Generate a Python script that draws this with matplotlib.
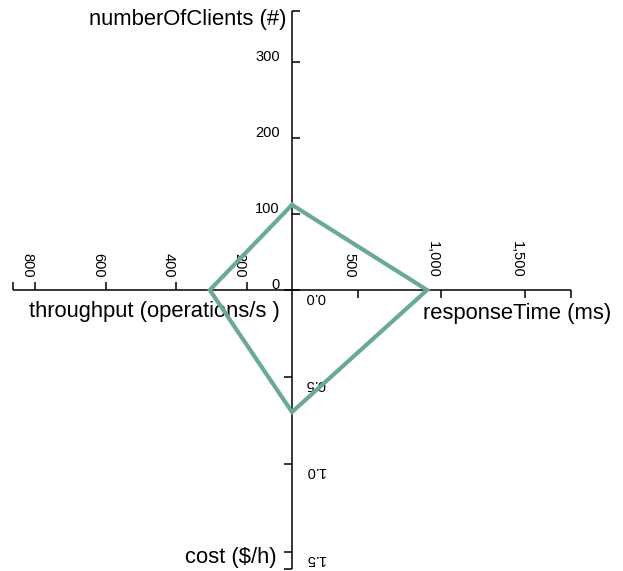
import matplotlib
matplotlib.use("Agg")
import matplotlib.pyplot as plt

plt.rcParams['font.family'] = ['Liberation Sans', 'DejaVu Sans']

# axis names, in drawing order: top, right, bottom, left
axis_names = ["numberOfClients (#)", "responseTime (ms)", "cost ($/h)", "throughput (operations/s )"]
# one measurement per axis
values = [112, 915, 0.7, 305]
# value range covered by each axis (centre -> outer end)
domains = [(0, 367), (105, 1778), (0, 1.6), (72, 863)]
tick_values = [
    [0, 100, 200, 300],
    [500, 1000, 1500],
    [0.0, 0.5, 1.0, 1.5],
    [200, 400, 600, 800],
]
tick_labels = [
    ["0", "100", "200", "300"],
    ["500", "1,000", "1,500"],
    ["0.0", "0.5", "1.0", "1.5"],
    ["200", "400", "600", "800"],
]

# layout in pixels
cx, cy = 292, 290
length = 279
directions = [(0, -1), (1, 0), (0, 1), (-1, 0)]
tick_len = 8
line_color = "#6aaa90"


def scale(i, v):
    lo, hi = domains[i]
    r = (v - lo) / (hi - lo) * length
    dx, dy = directions[i]
    return cx + dx * r, cy + dy * r


def draw_tick(i, x, y):
    if i == 0:
        ax.plot([x, x + tick_len], [y, y], **axis_kw)
    elif i == 1:
        ax.plot([x, x], [y, y + tick_len], **axis_kw)
    elif i == 2:
        ax.plot([x - tick_len, x], [y, y], **axis_kw)
    else:
        ax.plot([x, x], [y - tick_len, y], **axis_kw)


fig = plt.figure(figsize=(6.23, 5.71), dpi=100)
ax = fig.add_axes([0, 0, 1, 1])
ax.set_xlim(0, 623)
ax.set_ylim(571, 0)
ax.axis("off")

axis_kw = dict(color="black", lw=1.1, solid_capstyle="butt", zorder=2)
tick_fs = 10.5

for i in range(4):
    x0, y0 = scale(i, domains[i][0])
    x1, y1 = scale(i, domains[i][1])
    ax.plot([x0, x1], [y0, y1], **axis_kw)
    for v, lab in zip(tick_values[i], tick_labels[i]):
        x, y = scale(i, v)
        draw_tick(i, x, y)
        if i == 0:
            ax.text(x - 12, y - 5, lab, ha="right", va="center", fontsize=tick_fs)
        elif i == 2:
            ax.text(x + 13, y + 7, lab, ha="left", va="center", rotation=180, fontsize=tick_fs)
        else:
            ax.text(x - 8, y - 12, lab, ha="center", va="bottom", rotation=-90, fontsize=tick_fs)
    # outer end tick
    draw_tick(i, x1, y1)

# axis titles
title_kw = dict(fontsize=15.8, va="center", ha="center")
ax.text(188, 19, axis_names[0], **title_kw)
ax.text(517, 313, axis_names[1], **title_kw)
ax.text(231, 557, axis_names[2], **title_kw)
ax.text(154, 312, axis_names[3], **title_kw)

# the polygon
pts = [scale(i, v) for i, v in enumerate(values)]
pts.append(pts[0])
ax.plot([p[0] for p in pts], [p[1] for p in pts], color=line_color, lw=3,
        solid_joinstyle="miter", zorder=3)

fig.savefig("out.png", dpi=100)
